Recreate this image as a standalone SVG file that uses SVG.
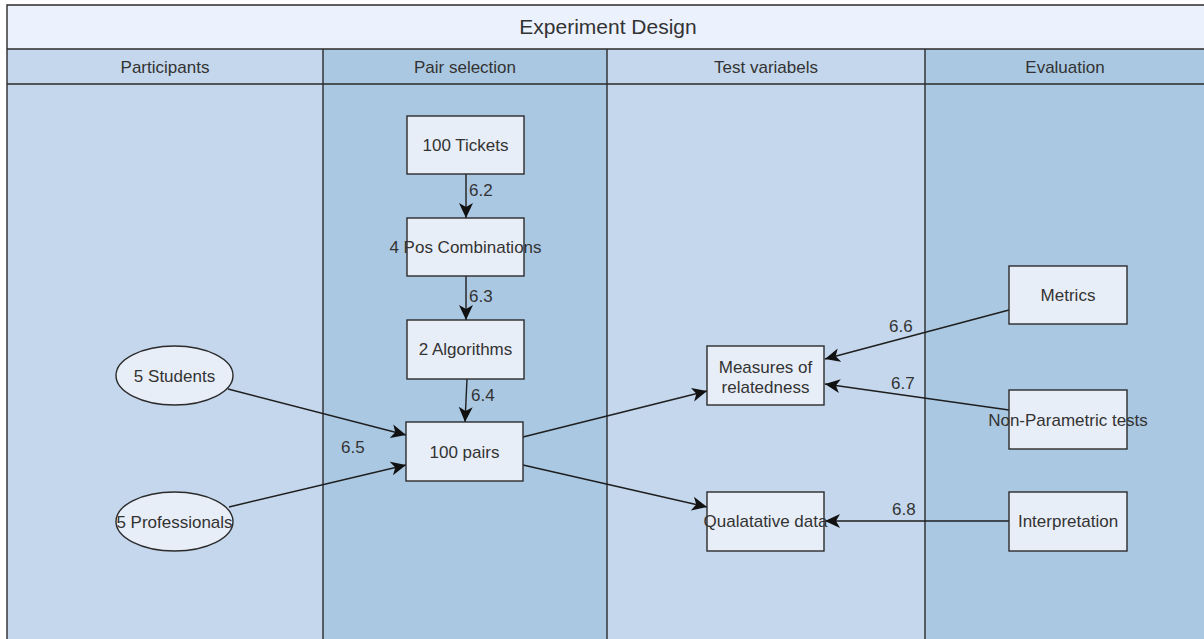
<svg xmlns="http://www.w3.org/2000/svg" width="1204" height="639" viewBox="0 0 1204 639">
  <style>
    text { font-family: "Liberation Sans", Arial, sans-serif; fill: #333333; }
    .title { font-size: 21px; text-anchor: middle; }
    .lane-title { font-size: 17px; text-anchor: middle; }
    .label { font-size: 17px; text-anchor: middle; }
    .edge-label { font-size: 17px; }
    .node { fill: #E8EEF8; stroke: #2b2b2b; stroke-width: 1.4; }
    .grid { stroke: #2b2b2b; stroke-width: 1.4; fill: none; }
    .edge { stroke: #1e1e1e; stroke-width: 1.4; fill: none; marker-end: url(#arrow); }
  </style>
  <defs>
    <marker id="arrow" markerUnits="userSpaceOnUse" viewBox="0 -8 16 16" refX="15" refY="0" markerWidth="16" markerHeight="16" orient="auto">
      <path d="M0,-7 L15,0 L0,7 L4,0 Z" fill="#111111"/>
    </marker>
  </defs>

  <rect x="0" y="0" width="1204" height="639" fill="#ffffff"/>

  <!-- pool: title band and lanes -->
  <g id="pool">
    <rect x="7" y="5" width="1200" height="44" fill="#EBF2FD"/>
    <rect x="7" y="49" width="316" height="592" fill="#C4D7EC"/>
    <rect x="323" y="49" width="284" height="592" fill="#AAC8E2"/>
    <rect x="607" y="49" width="318" height="592" fill="#C4D7EC"/>
    <rect x="925" y="49" width="282" height="592" fill="#AAC8E2"/>
    <path class="grid" d="M7,641 V5 H1206 M7,49 H1206 M7,84 H1206 M323,49 V641 M607,49 V641 M925,49 V641"/>
    <text class="title" x="608" y="34">Experiment Design</text>
    <text class="lane-title" x="165" y="73">Participants</text>
    <text class="lane-title" x="465" y="73">Pair selection</text>
    <text class="lane-title" x="766" y="73">Test variabels</text>
    <text class="lane-title" x="1065" y="73">Evaluation</text>
  </g>

  <!-- connectors -->
  <g id="connectors">
    <line class="edge" x1="466" y1="174" x2="466" y2="218"/>
    <line class="edge" x1="466" y1="276" x2="466" y2="320"/>
    <line class="edge" x1="467" y1="379" x2="465" y2="422"/>
    <line class="edge" x1="228" y1="389" x2="406" y2="435"/>
    <line class="edge" x1="229" y1="507" x2="406" y2="465"/>
    <line class="edge" x1="523" y1="437" x2="707" y2="391"/>
    <line class="edge" x1="523" y1="465" x2="707" y2="507"/>
    <line class="edge" x1="1009" y1="310" x2="825" y2="359"/>
    <line class="edge" x1="1009" y1="410" x2="825" y2="384"/>
    <line class="edge" x1="1009" y1="521" x2="825" y2="521"/>
    <text class="edge-label" x="469" y="196">6.2</text>
    <text class="edge-label" x="469" y="302">6.3</text>
    <text class="edge-label" x="471" y="401">6.4</text>
    <text class="edge-label" x="341" y="453">6.5</text>
    <text class="edge-label" x="889" y="332">6.6</text>
    <text class="edge-label" x="891" y="389">6.7</text>
    <text class="edge-label" x="892" y="515">6.8</text>
  </g>

  <!-- participants -->
  <g id="students">
    <ellipse class="node" cx="174.5" cy="375.5" rx="58.5" ry="29.5"/>
    <text class="label" x="174.5" y="381.5">5 Students</text>
  </g>
  <g id="professionals">
    <ellipse class="node" cx="174.5" cy="521.5" rx="58.5" ry="29.5"/>
    <text class="label" x="174.5" y="527.5">5 Professionals</text>
  </g>

  <!-- pair selection -->
  <g id="tickets">
    <rect class="node" x="407" y="116" width="117" height="58"/>
    <text class="label" x="465.5" y="151">100 Tickets</text>
  </g>
  <g id="combinations">
    <rect class="node" x="407" y="218" width="117" height="58"/>
    <text class="label" x="465.5" y="253">4 Pos Combinations</text>
  </g>
  <g id="algorithms">
    <rect class="node" x="407" y="320" width="117" height="59"/>
    <text class="label" x="465.5" y="355">2 Algorithms</text>
  </g>
  <g id="pairs">
    <rect class="node" x="406" y="422" width="117" height="59"/>
    <text class="label" x="464.5" y="458">100 pairs</text>
  </g>

  <!-- test variables -->
  <g id="measures">
    <rect class="node" x="707" y="346" width="117" height="59"/>
    <text class="label" x="765.5" y="373">Measures of</text>
    <text class="label" x="765.5" y="393">relatedness</text>
  </g>
  <g id="qualitative">
    <rect class="node" x="707" y="492" width="117" height="59"/>
    <text class="label" x="765.5" y="527">Qualatative data</text>
  </g>

  <!-- evaluation -->
  <g id="metrics">
    <rect class="node" x="1009" y="266" width="118" height="58"/>
    <text class="label" x="1068" y="301">Metrics</text>
  </g>
  <g id="nonparametric">
    <rect class="node" x="1009" y="390" width="118" height="59"/>
    <text class="label" x="1068" y="426">Non-Parametric tests</text>
  </g>
  <g id="interpretation">
    <rect class="node" x="1009" y="492" width="118" height="59"/>
    <text class="label" x="1068" y="527">Interpretation</text>
  </g>
</svg>
